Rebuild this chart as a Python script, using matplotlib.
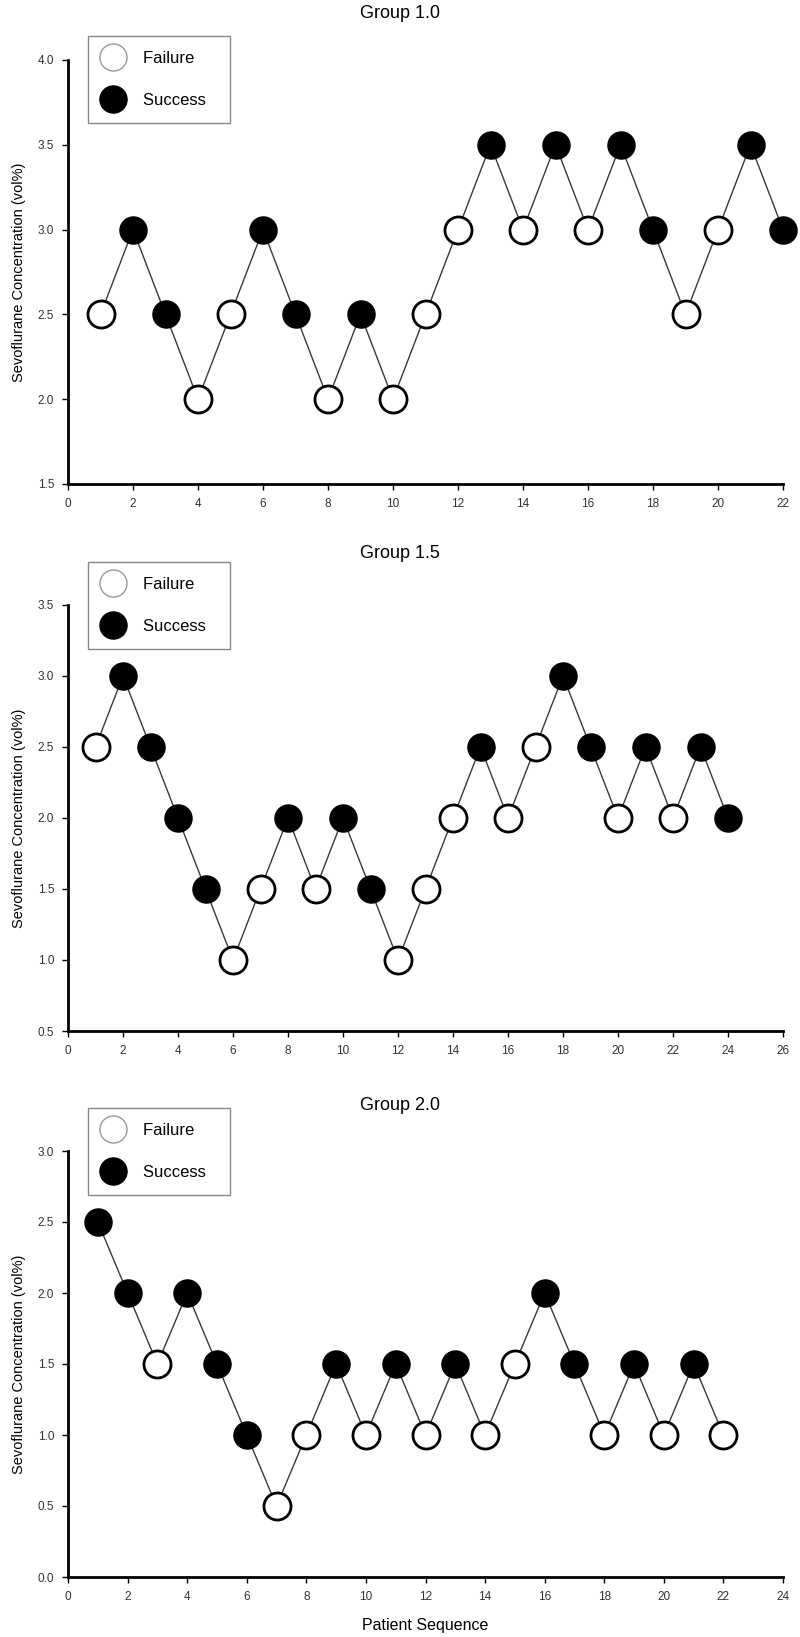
import matplotlib

matplotlib.use("Agg")

import matplotlib.pyplot as plt
from matplotlib.lines import Line2D
import numpy as np

# Group 1.0
g10_seq = list(range(1, 23))
g10_conc = [2.5, 3.0, 2.5, 2.0, 2.5, 3.0, 2.5, 2.0, 2.5, 2.0, 2.5,
            3.0, 3.5, 3.0, 3.5, 3.0, 3.5, 3.0, 2.5, 3.0, 3.5, 3.0]
g10_success = [0, 1, 1, 0, 0, 1, 1, 0, 1, 0, 0,
               0, 1, 0, 1, 0, 1, 1, 0, 0, 1, 1]

# Group 1.5
g15_seq = list(range(1, 25))
g15_conc = [2.5, 3.0, 2.5, 2.0, 1.5, 1.0, 1.5, 2.0, 1.5, 2.0, 1.5, 1.0,
            1.5, 2.0, 2.5, 2.0, 2.5, 3.0, 2.5, 2.0, 2.5, 2.0, 2.5, 2.0]
g15_success = [0, 1, 1, 1, 1, 0, 0, 1, 0, 1, 1, 0,
               0, 0, 1, 0, 0, 1, 1, 0, 1, 0, 1, 1]

# Group 2.0
g20_seq = list(range(1, 23))
g20_conc = [2.5, 2.0, 1.5, 2.0, 1.5, 1.0, 0.5, 1.0, 1.5, 1.0, 1.5,
            1.0, 1.5, 1.0, 1.5, 2.0, 1.5, 1.0, 1.5, 1.0, 1.5, 1.0]
g20_success = [1, 1, 0, 1, 1, 1, 0, 0, 1, 0, 1,
               0, 1, 0, 0, 1, 1, 0, 1, 0, 1, 0]

panels = [
    ("Group 1.0", g10_seq, g10_conc, g10_success, (1.5, 4.0), 22),
    ("Group 1.5", g15_seq, g15_conc, g15_success, (0.5, 3.5), 26),
    ("Group 2.0", g20_seq, g20_conc, g20_success, (0.0, 3.0), 24),
]

W, H = 800, 1637
LEFT, RIGHT = 68, 783
# (axes top px, axes bottom px, title y px, legend top px)
layout = [(60, 484, 14, 36), (605, 1031, 554, 562), (1151, 1577, 1105, 1108)]

NARROW = ["Liberation Sans Narrow", "Liberation Sans", "DejaVu Sans"]
SANS = ["Liberation Sans", "DejaVu Sans"]
MS = 19.5

fig = plt.figure(figsize=(W / 100, H / 100), dpi=100)

for (title, seq, conc, success, ylim, xmax), (top, bottom, ty, ly) in zip(panels, layout):
    ax = fig.add_axes([LEFT / W, 1 - bottom / H, (RIGHT - LEFT) / W, (bottom - top) / H])
    seq = np.asarray(seq)
    conc = np.asarray(conc)
    success = np.asarray(success, dtype=bool)

    ax.plot(seq, conc, color="#3a3a3a", linewidth=1.0, zorder=1)
    ax.plot(seq[~success], conc[~success], linestyle="none", marker="o", markersize=MS,
            markerfacecolor="white", markeredgecolor="black", markeredgewidth=2.0, zorder=2)
    ax.plot(seq[success], conc[success], linestyle="none", marker="o", markersize=MS,
            markerfacecolor="black", markeredgecolor="black", markeredgewidth=1.0, zorder=3)

    ax.set_xlim(0, xmax)
    ax.set_ylim(*ylim)
    ax.set_xticks(np.arange(0, xmax + 1, 2))
    yt = np.arange(ylim[0], ylim[1] + 0.01, 0.5)
    ax.set_yticks(yt)
    ax.set_yticklabels([f"{v:.1f}" for v in yt])
    for side in ("top", "right"):
        ax.spines[side].set_visible(False)
    for side in ("left", "bottom"):
        ax.spines[side].set_linewidth(2.0)
    ax.tick_params(axis="both", direction="out", length=4, width=1.0, labelsize=8.5,
                   labelcolor="#333333", pad=6)
    for lab in ax.get_xticklabels() + ax.get_yticklabels():
        lab.set_family(NARROW)
    for ln in ax.lines:
        ln.set_clip_on(False)

    ax.set_ylabel("Sevoflurane Concentration (vol%)", fontsize=10.5, family=SANS, labelpad=8)
    fig.text(0.5, 1 - ty / H, title, ha="center", va="center", fontsize=13, family=SANS)

    handles = [
        Line2D([], [], linestyle="none", marker="o", markersize=MS, markerfacecolor="white",
               markeredgecolor="#999999", markeredgewidth=1.0),
        Line2D([], [], linestyle="none", marker="o", markersize=MS, markerfacecolor="black",
               markeredgecolor="black"),
    ]
    ax.legend(handles, ["Failure  ", "Success  "], loc="upper left",
              bbox_to_anchor=(88 / W, 1 - ly / H), bbox_transform=fig.transFigure,
              borderaxespad=0, fancybox=False, edgecolor="#888888", framealpha=1,
              prop={"family": SANS, "size": 12}, handletextpad=1.2, labelspacing=1.6,
              borderpad=0.9, handlelength=1.2)

    if title == "Group 2.0":
        ax.set_xlabel("Patient Sequence", fontsize=11.5, family=NARROW, labelpad=11)

fig.savefig("out.png", dpi=100)
